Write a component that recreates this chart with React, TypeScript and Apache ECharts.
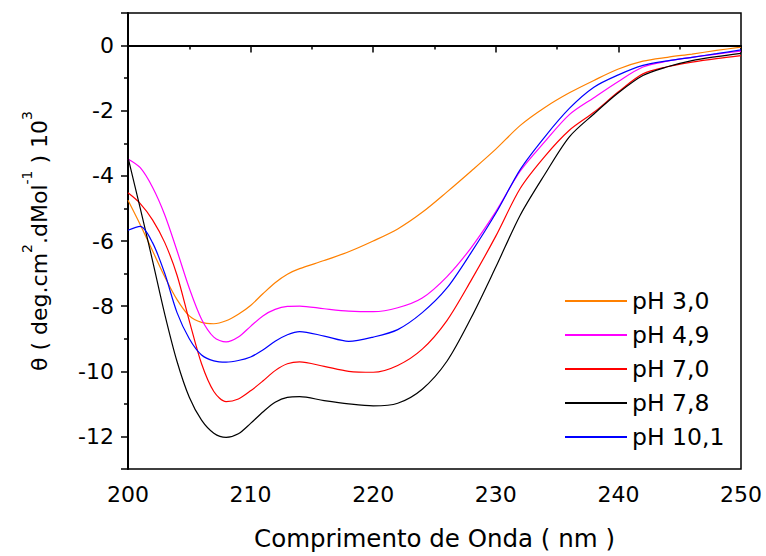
import React, { useEffect, useRef } from "react";
import * as echarts from "echarts";

const wavelength = [200, 201, 202, 203, 204, 205, 206, 207, 208, 209, 210, 211, 212, 213, 214, 216, 218, 220, 222, 224, 226, 228, 230, 232, 234, 236, 238, 240, 242, 244, 246, 248, 250];

const ph30 = [-4.75, -5.5, -6.3, -7.1, -7.8, -8.3, -8.5, -8.54, -8.45, -8.25, -7.98, -7.62, -7.28, -7.02, -6.85, -6.6, -6.33, -6.0, -5.63, -5.12, -4.5, -3.85, -3.18, -2.45, -1.9, -1.45, -1.07, -0.72, -0.48, -0.36, -0.26, -0.15, -0.05];
const ph49 = [-3.48, -3.75, -4.35, -5.2, -6.3, -7.45, -8.4, -8.95, -9.1, -8.95, -8.62, -8.3, -8.1, -8.01, -8.0, -8.08, -8.15, -8.17, -8.05, -7.75, -7.1, -6.2, -5.1, -3.85, -2.95, -2.12, -1.6, -1.1, -0.66, -0.48, -0.36, -0.26, -0.17];
const ph70 = [-4.52, -4.85, -5.35, -6.05, -7.05, -8.45, -9.77, -10.62, -10.93, -10.85, -10.6, -10.3, -9.98, -9.77, -9.71, -9.85, -10.0, -10.03, -9.82, -9.32, -8.45, -7.2, -5.85, -4.38, -3.4, -2.6, -2.05, -1.42, -0.87, -0.65, -0.51, -0.4, -0.31];
const ph78 = [-3.43, -5.0, -6.6, -8.25, -9.7, -10.8, -11.5, -11.9, -12.03, -11.92, -11.6, -11.25, -10.95, -10.8, -10.78, -10.9, -11.0, -11.06, -10.98, -10.55, -9.7, -8.35, -6.8, -5.2, -3.95, -2.8, -2.1, -1.45, -0.92, -0.65, -0.46, -0.34, -0.24];
const ph101 = [-5.67, -5.55, -6.05, -7.0, -8.2, -9.0, -9.5, -9.68, -9.72, -9.67, -9.56, -9.35, -9.08, -8.88, -8.78, -8.92, -9.08, -8.95, -8.72, -8.2, -7.45, -6.35, -5.15, -3.8, -2.8, -1.93, -1.28, -0.9, -0.61, -0.47, -0.36, -0.25, -0.13];

const seriesNames = ["pH 3,0", "pH 4,9", "pH 7,0", "pH 7,8", "pH 10,1"];
const seriesValues = [ph30, ph49, ph70, ph78, ph101];
const seriesColors = ["#FF8000", "#FF00FF", "#FF0000", "#000000", "#0000FF"];

const FONT = "'DejaVu Sans', 'Liberation Sans', Arial, sans-serif";

export default function App() {
  const ref = useRef<HTMLDivElement>(null);
  useEffect(() => {
    if (!ref.current) return;
    const chart = echarts.init(ref.current, undefined, { renderer: "svg" });
    const series: any[] = seriesNames.map((name, i) => ({
      name,
      type: "line",
      data: wavelength.map((x, j) => [x, seriesValues[i][j]]),
      showSymbol: false,
      smooth: 0.3,
      lineStyle: { color: seriesColors[i], width: 1.2 },
      itemStyle: { color: seriesColors[i] },
      z: 3,
    }));
    series[0].markLine = {
      silent: true,
      symbol: ["none", "none"],
      label: { show: false },
      lineStyle: { color: "#000", width: 2, type: "solid" },
      data: [{ yAxis: 0 }],
    };
    chart.setOption({
      animation: false,
      backgroundColor: "#fff",
      grid: {
        left: 128,
        right: 25,
        top: 13,
        bottom: 87,
        show: true,
        borderColor: "#000",
        borderWidth: 1.5,
        backgroundColor: "transparent",
      },
      legend: {
        orient: "vertical",
        left: 560,
        top: 284,
        icon: "rect",
        itemWidth: 62,
        itemHeight: 2,
        itemGap: 10,
        data: seriesNames,
        textStyle: { fontFamily: FONT, fontSize: 23.5, color: "#000", lineHeight: 24 },
      },
      xAxis: {
        type: "value",
        min: 200,
        max: 250,
        interval: 10,
        name: "Comprimento de Onda ( nm )",
        nameLocation: "middle",
        nameGap: 57,
        nameTextStyle: { fontFamily: FONT, fontSize: 24.5, color: "#000" },
        axisLine: { show: true, lineStyle: { color: "#000", width: 2 } },
        axisTick: { show: true, inside: false, length: 7, lineStyle: { color: "#000", width: 1.5 } },
        minorTick: { show: true, splitNumber: 2, length: 4, lineStyle: { color: "#000", width: 1.5 } },
        splitLine: { show: false },
        axisLabel: { fontFamily: FONT, fontSize: 22, color: "#000", margin: 14 },
      },
      yAxis: {
        type: "value",
        min: -13,
        max: 1,
        splitNumber: 7,
        name: "{a|θ ( deg.cm}{s|2}{a|.dMol}{s|-1}{a| ) 10}{s|3}",
        nameLocation: "middle",
        nameGap: 78,
        nameRotate: 90,
        nameTextStyle: {
          color: "#000",
          rich: {
            a: { fontFamily: FONT, fontSize: 22, color: "#000", lineHeight: 30, verticalAlign: "bottom" },
            s: { fontFamily: FONT, fontSize: 14, color: "#000", lineHeight: 14, verticalAlign: "top" },
          },
        },
        axisLine: { show: true, onZero: false, lineStyle: { color: "#000", width: 2 } },
        axisTick: { show: true, inside: false, length: 7, lineStyle: { color: "#000", width: 1.5 } },
        minorTick: { show: true, splitNumber: 2, length: 4, lineStyle: { color: "#000", width: 1.5 } },
        splitLine: { show: false },
        axisLabel: {
          fontFamily: FONT,
          fontSize: 22,
          color: "#000",
          margin: 14,
          showMinLabel: false,
          showMaxLabel: false,
        },
      },
      series,
    });
    return () => chart.dispose();
  }, []);
  return <div ref={ref} style={{ width: 766, height: 556, position: "absolute", left: 0, top: 0 }} />;
}
